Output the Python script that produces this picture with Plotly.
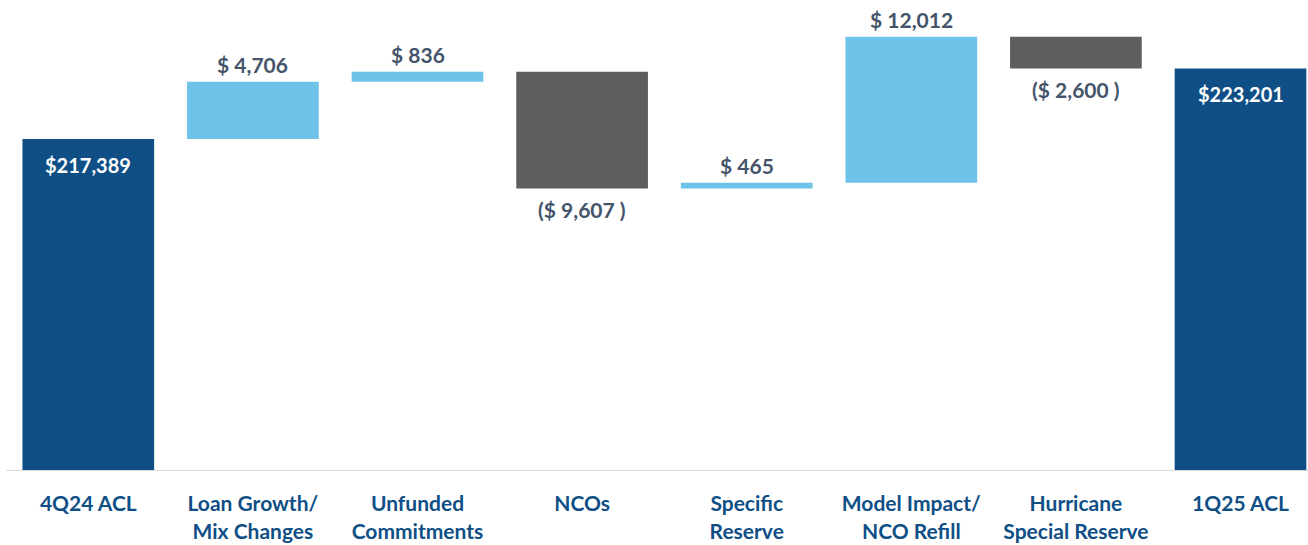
import plotly.graph_objects as go

categories = [
    "4Q24 ACL",
    "Loan Growth/<br>Mix Changes",
    "Unfunded<br>Commitments",
    "NCOs",
    "Specific<br>Reserve",
    "Model Impact/<br>NCO Refill",
    "Hurricane<br>Special Reserve",
    "1Q25 ACL",
]
measures = ["absolute", "relative", "relative", "relative",
            "relative", "relative", "relative", "total"]
values = [217389, 4706, 836, -9607, 465, 12012, -2600, 223201]

DARK_BLUE = "#0F4F86"
LIGHT_BLUE = "#6EC3E8"
GREY = "#5E5E60"
LABEL = "#44546A"
FONT = "Lato"

fig = go.Figure(
    go.Waterfall(
        x=categories,
        y=values,
        measure=measures,
        increasing=dict(marker=dict(color=LIGHT_BLUE)),
        decreasing=dict(marker=dict(color=GREY)),
        totals=dict(marker=dict(color=DARK_BLUE)),
        connector=dict(visible=False),
        hoverinfo="skip",
    )
)

# value labels: white inside the totals, grey beyond the end of each step
running = 0
for cat, v, m in zip(categories, values, measures):
    if m == "relative":
        running += v
        if v >= 0:
            txt, anchor, shift = f"$ {v:,}", "bottom", 3
        else:
            txt, anchor, shift = f"($ {abs(v):,} )", "top", -7
        fig.add_annotation(
            x=cat, y=running, text=f"<b>{txt}</b>", showarrow=False,
            yanchor=anchor, yshift=shift,
            font=dict(family=FONT, size=21, color=LABEL),
        )
    else:
        running = v
        fig.add_annotation(
            x=cat, y=v, text=f"<b>${v:,}</b>", showarrow=False,
            yanchor="top", yshift=-12,
            font=dict(family=FONT, size=20, color="white"),
        )

fig.update_layout(
    width=1308,
    height=545,
    margin=dict(l=6, r=0, t=0, b=75),
    plot_bgcolor="white",
    paper_bgcolor="white",
    bargap=0.186,
    showlegend=False,
    font=dict(family=FONT),
)
fig.update_xaxes(
    range=[-0.5, 7.41],
    showline=True,
    linecolor="#D9D9D9",
    linewidth=1,
    showgrid=False,
    ticks="",
    tickfont=dict(family=FONT, size=21, color=DARK_BLUE, weight="bold"),
    ticklabelstandoff=15,
)
fig.update_yaxes(range=[190150, 228830], visible=False, showgrid=False)

fig.write_html(
    "out.html",
    config={"displayModeBar": False},
    post_script="document.body.style.margin='0';",
)
